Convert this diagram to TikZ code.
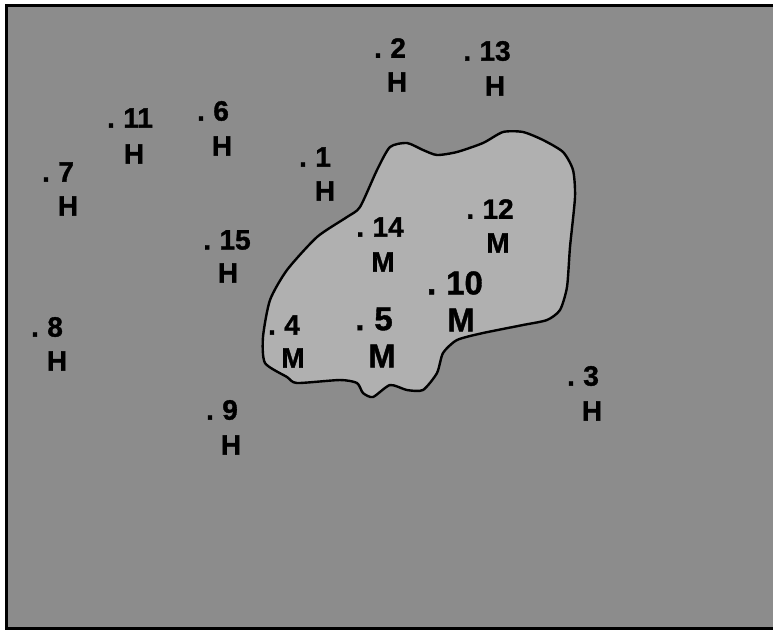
\documentclass[tikz,border=0pt]{standalone}
\usepackage{fontspec}
\setmainfont{Liberation Sans}[BoldFeatures={FakeBold=1.2}]
\begin{document}
\begin{tikzpicture}[x=1pt,y=-1pt,
  lbl/.style={font=\bfseries\fontsize{28}{28}\selectfont, inner sep=0pt, text=black},
  big/.style={font=\bfseries\fontsize{33}{33}\selectfont, inner sep=0pt, text=black}]
\definecolor{bg}{HTML}{8C8C8C}
\definecolor{blob}{HTML}{B0B0B0}
\newcommand{\dt}[1]{.\hspace{0.3em}#1}
\useasboundingbox (0,0) rectangle (773,630);
\fill[white] (0,0) rectangle (773,630);
\fill[bg] (6,5) rectangle (773,628);
\draw[line width=3pt] (773,5) -- (6,5) -- (6,628) -- (773,628);
% region
\draw[line width=2.4pt, fill=blob, line join=round]
 plot[smooth cycle, tension=0.4] coordinates {
 (360,207) (377,170) (390,147) (407,143) (423,150) (437,155) (457,152)
 (483,143) (503,132) (523,132) (543,140) (563,152) (573,170) (575,197)
 (570,247) (567,287) (560,310) (547,320) (523,325) (483,333) (457,340)
 (443,353) (437,373) (423,390) (407,390) (390,385) (373,397) (363,393)
 (357,383) (340,380) (297,383) (287,377) (265,363) (263,337) (270,300)
 (287,270) (317,237) (347,217)};
% labels
\node[lbl] (n2) at (390,48) {\dt{2}};   \node[lbl] (h2) at (397,82) {H};
\node[lbl] (n13) at (487,51) {\dt{13}}; \node[lbl] (h13) at (495,86) {H};
\node[lbl] (n11) at (130,118) {\dt{11}}; \node[lbl] (h11) at (134,154) {H};
\node[lbl] (n6) at (213,111) {\dt{6}};  \node[lbl] (h6) at (222,146) {H};
\node[lbl] (n7) at (58,172) {\dt{7}};   \node[lbl] (h7) at (68,206) {H};
\node[lbl] (n1) at (315,157) {\dt{1}};  \node[lbl] (h1) at (325,191) {H};
\node[lbl] (n15) at (227,240) {\dt{15}}; \node[lbl] (h15) at (228,273) {H};
\node[lbl] (n14) at (380,227) {\dt{14}}; \node[lbl] (m14) at (383,262) {M};
\node[lbl] (n12) at (490,209) {\dt{12}}; \node[lbl] (m12) at (498,243) {M};
\node[big] (n10) at (455,283) {\dt{10}}; \node[big] (m10) at (461,320) {M};
\node[lbl] (n4) at (284,325) {\dt{4}};  \node[lbl] (m4) at (293,358) {M};
\node[big] (n5) at (374,319) {\dt{5}};  \node[big] (m5) at (382,356) {M};
\node[lbl] (n8) at (47,327) {\dt{8}};   \node[lbl] (h8) at (57,361) {H};
\node[lbl] (n9) at (222,410) {\dt{9}};  \node[lbl] (h9) at (231,445) {H};
\node[lbl] (n3) at (583,376) {\dt{3}};  \node[lbl] (h3) at (592,411) {H};
\end{tikzpicture}
\end{document}
